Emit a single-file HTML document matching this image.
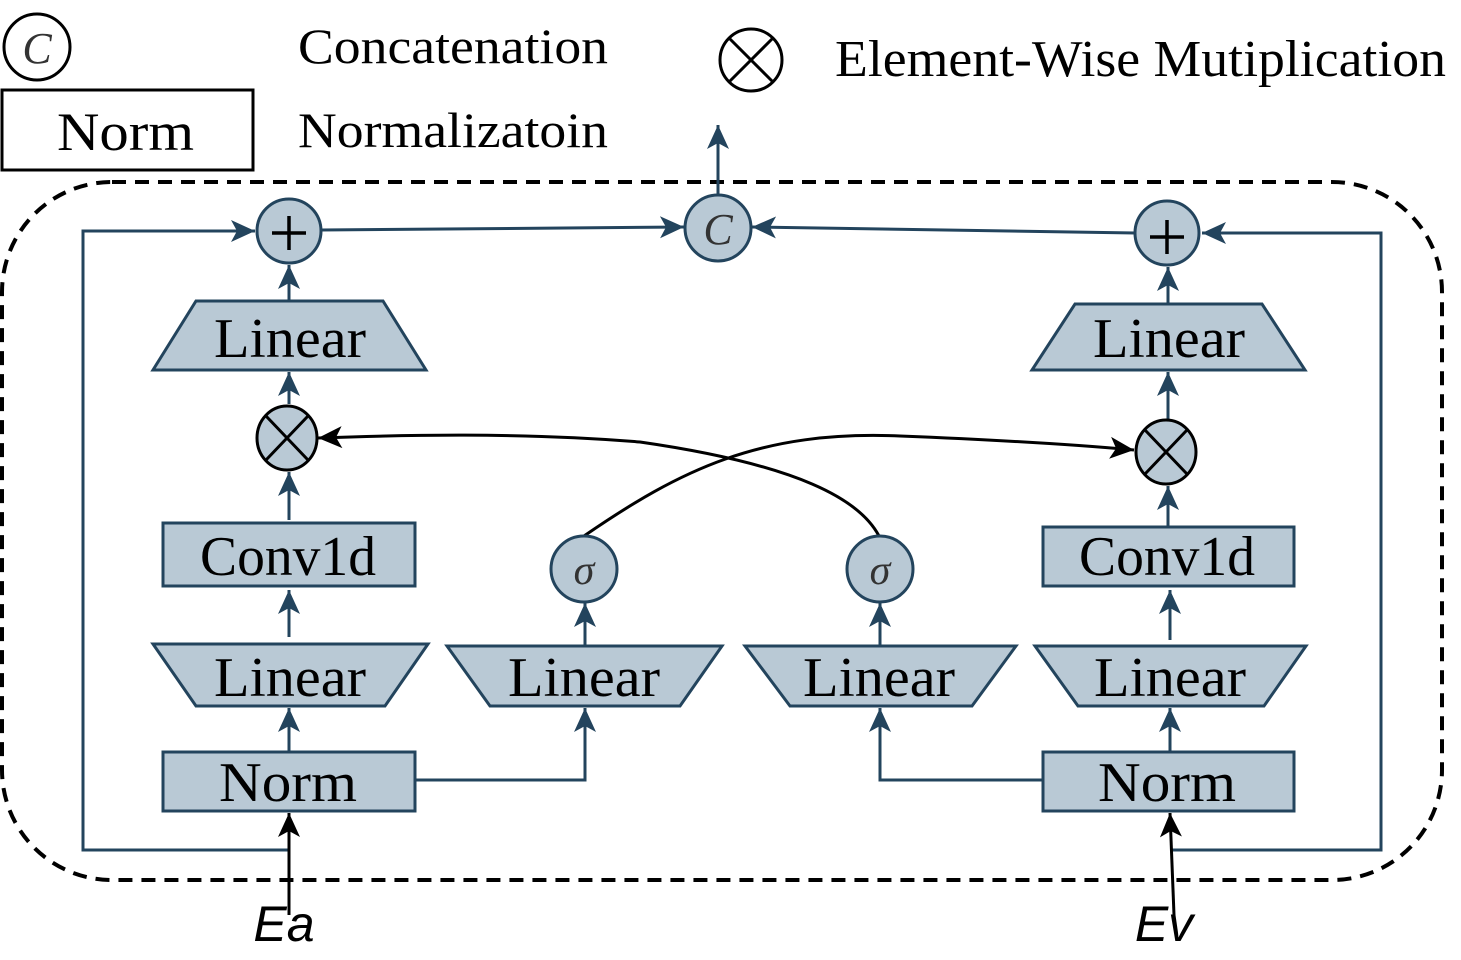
<!DOCTYPE html>
<html><head><meta charset="utf-8"><style>html,body{margin:0;padding:0;background:#fff}svg{display:block}</style></head>
<body>
<svg width="1461" height="960" viewBox="0 0 1461 960" xmlns="http://www.w3.org/2000/svg">
<defs>
<marker id="ab2" markerWidth="26" markerHeight="26" refX="24" refY="13" orient="auto" markerUnits="userSpaceOnUse" viewBox="0 0 26 26"><path d="M0,2 L24,13 L0,24 L6,13 z" fill="#23445d"/></marker>
<marker id="ak2" markerWidth="26" markerHeight="26" refX="24" refY="13" orient="auto" markerUnits="userSpaceOnUse" viewBox="0 0 26 26"><path d="M0,2 L24,13 L0,24 L6,13 z" fill="#000"/></marker>
</defs>
<g font-family="Liberation Serif, serif" fill="#000">
<circle cx="37" cy="47" r="33" fill="none" stroke="#000" stroke-width="3"/>
<text x="37" y="63" font-size="44" font-style="italic" text-anchor="middle" fill="#333">C</text>
<text x="298" y="63" font-size="50" textLength="310" lengthAdjust="spacingAndGlyphs">Concatenation</text>
<circle cx="751" cy="60" r="31" fill="none" stroke="#000" stroke-width="3"/>
<line x1="729" y1="38" x2="773" y2="82" stroke="#000" stroke-width="3"/><line x1="773" y1="38" x2="729" y2="82" stroke="#000" stroke-width="3"/>
<text x="835" y="76" font-size="52" textLength="611" lengthAdjust="spacingAndGlyphs">Element-Wise Mutiplication</text>
<rect x="2" y="90" width="251" height="80" fill="none" stroke="#000" stroke-width="3"/>
<text x="57" y="150" font-size="54" textLength="137" lengthAdjust="spacingAndGlyphs">Norm</text>
<text x="298" y="147" font-size="50" textLength="310" lengthAdjust="spacingAndGlyphs">Normalizatoin</text>
</g>
<rect x="2" y="182" width="1440" height="698" rx="110" fill="none" stroke="#000" stroke-width="4" stroke-dasharray="14,9"/>
<g stroke="#23445d" stroke-width="3" fill="none">
<polyline points="289,850 83,850 83,231 255,231" marker-end="url(#ab2)"/>
<polyline points="1170,850 1381,850 1381,233 1202,233" marker-end="url(#ab2)"/>
<line x1="321" y1="230" x2="684" y2="227" marker-end="url(#ab2)"/>
<line x1="1135" y1="233" x2="752" y2="227" marker-end="url(#ab2)"/>
<line x1="718" y1="195" x2="718" y2="125" marker-end="url(#ab2)"/>
<polyline points="415,780 585,780 585,708" marker-end="url(#ab2)"/>
<polyline points="1043,780 880,780 880,708" marker-end="url(#ab2)"/>
<line x1="289" y1="752" x2="289" y2="708" marker-end="url(#ab2)"/>
<line x1="289" y1="637" x2="289" y2="590" marker-end="url(#ab2)"/>
<line x1="289" y1="520" x2="289" y2="472" marker-end="url(#ab2)"/>
<line x1="289" y1="404" x2="289" y2="372" marker-end="url(#ab2)"/>
<line x1="289" y1="301" x2="289" y2="265" marker-end="url(#ab2)"/>
<line x1="585" y1="646" x2="585" y2="603" marker-end="url(#ab2)"/>
<line x1="880" y1="646" x2="880" y2="603" marker-end="url(#ab2)"/>
<line x1="1170" y1="752" x2="1170" y2="708" marker-end="url(#ab2)"/>
<line x1="1170" y1="640" x2="1170" y2="590" marker-end="url(#ab2)"/>
<line x1="1168" y1="527" x2="1168" y2="486" marker-end="url(#ab2)"/>
<line x1="1168" y1="420" x2="1168" y2="372" marker-end="url(#ab2)"/>
<line x1="1168" y1="304" x2="1168" y2="267" marker-end="url(#ab2)"/>
</g>
<g stroke="#000" stroke-width="3" fill="none">
<path d="M584,536 C680,470 760,430 900,436 C1000,440 1080,445 1134,450" marker-end="url(#ak2)"/>
<path d="M879,536 C860,500 800,465 640,442 C520,432 400,435 318,438" marker-end="url(#ak2)"/>
<line x1="289" y1="915" x2="289" y2="813" marker-end="url(#ak2)"/>
<line x1="1174" y1="915" x2="1170" y2="813" marker-end="url(#ak2)"/>
</g>
<g fill="#b9c9d5" stroke="#23445d" stroke-width="3">
<circle cx="289" cy="231" r="32"/>
<circle cx="718" cy="228" r="33"/>
<circle cx="1167" cy="233" r="32"/>
<polygon points="196,301 383,301 426,370 153,370"/>
<polygon points="1075,304 1262,304 1305,370 1032,370"/>
<rect x="163" y="523" width="252" height="63"/>
<rect x="1043" y="527" width="251" height="59"/>
<polygon points="153,644 428,644 385,706 196,706"/>
<polygon points="447,646 722,646 680,706 490,706"/>
<polygon points="745,646 1016,646 972,706 790,706"/>
<polygon points="1035,646 1306,646 1264,706 1078,706"/>
<rect x="163" y="752" width="252" height="59"/>
<rect x="1043" y="752" width="251" height="59"/>
<circle cx="584" cy="569" r="33"/>
<circle cx="880" cy="569" r="33"/>
</g>
<g fill="#b9c9d5" stroke="#000" stroke-width="3">
<ellipse cx="287" cy="438" rx="30" ry="32"/>
<ellipse cx="1166" cy="452" rx="30" ry="32"/>
</g>
<g stroke="#000" stroke-width="3">
<line x1="266" y1="416" x2="308" y2="460"/><line x1="308" y1="416" x2="266" y2="460"/>
<line x1="1145" y1="430" x2="1187" y2="474"/><line x1="1187" y1="430" x2="1145" y2="474"/>
</g>
<g stroke="#000" stroke-width="3.5">
<line x1="289" y1="216" x2="289" y2="250"/><line x1="272" y1="233" x2="306" y2="233"/>
<line x1="1167" y1="220" x2="1167" y2="254"/><line x1="1150" y1="237" x2="1184" y2="237"/>
</g>
<g font-family="Liberation Serif, serif" fill="#000" text-anchor="middle" font-size="56">
<text x="718" y="244" font-size="44" font-style="italic" fill="#333">C</text>
<text x="290" y="357" textLength="152" lengthAdjust="spacingAndGlyphs">Linear</text>
<text x="1169" y="357" textLength="152" lengthAdjust="spacingAndGlyphs">Linear</text>
<text x="288" y="575" textLength="176" lengthAdjust="spacingAndGlyphs">Conv1d</text>
<text x="1167" y="575" textLength="176" lengthAdjust="spacingAndGlyphs">Conv1d</text>
<text x="290" y="696" textLength="152" lengthAdjust="spacingAndGlyphs">Linear</text>
<text x="584" y="696" textLength="152" lengthAdjust="spacingAndGlyphs">Linear</text>
<text x="879" y="696" textLength="152" lengthAdjust="spacingAndGlyphs">Linear</text>
<text x="1170" y="696" textLength="152" lengthAdjust="spacingAndGlyphs">Linear</text>
<text x="288" y="801" textLength="138" lengthAdjust="spacingAndGlyphs">Norm</text>
<text x="1167" y="801" textLength="138" lengthAdjust="spacingAndGlyphs">Norm</text>
<text x="584" y="584" font-size="42" font-style="italic" fill="#333">σ</text>
<text x="880" y="584" font-size="42" font-style="italic" fill="#333">σ</text>
</g>
<g font-family="Liberation Sans, sans-serif" font-style="italic" font-size="50" fill="#000" text-anchor="middle">
<text x="284" y="941">Ea</text>
<text x="1164" y="941">Ev</text>
</g>
</svg>
</body></html>
